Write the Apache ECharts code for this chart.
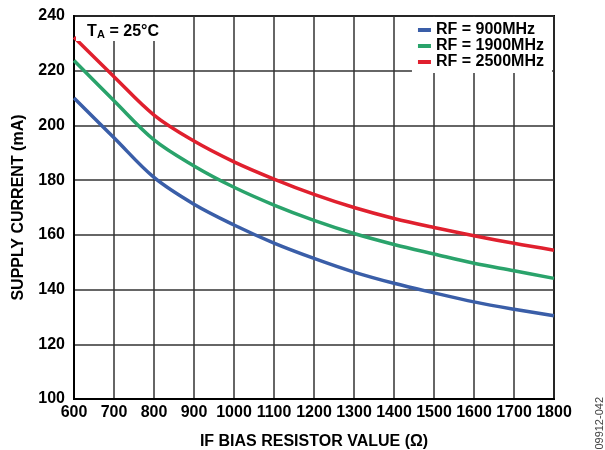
<!DOCTYPE html>
<html><head><meta charset="utf-8">
<script src="https://cdn.jsdelivr.net/npm/echarts@6/dist/echarts.min.js"></script>
<style>html,body{margin:0;padding:0;background:#fff}#c{width:605px;height:450px}</style>
</head><body><div id="c"></div>
<script>
const resistor = [600,700,800,900,1000,1100,1200,1300,1400,1500,1600,1700,1800];
const rf900  = [210.0,195.5,181.0,171.2,163.6,157.0,151.4,146.4,142.3,138.8,135.5,132.8,130.4];
const rf1900 = [223.7,209.0,194.7,185.2,177.4,170.9,165.3,160.5,156.5,153.0,149.6,146.9,144.1];
const rf2500 = [232.2,217.8,203.8,194.3,186.7,180.4,174.8,170.0,166.0,162.7,159.7,156.9,154.4];
const seriesNames = ['RF = 900MHz','RF = 1900MHz','RF = 2500MHz'];
const colors = ['#3a5ea8','#2aa36b','#e0202e'];
const font = 'Liberation Sans, Arial, sans-serif';
const pair = arr => resistor.map((x,i)=>[x,arr[i]]);
const chart = echarts.init(document.getElementById('c'));
chart.setOption({
  animation:false,
  grid:{left:74,right:51,top:16,bottom:51,outerBoundsMode:'none',containLabel:false,show:true,borderColor:'#000',borderWidth:2,backgroundColor:'#fff'},
  xAxis:{type:'value',min:600,max:1800,interval:100,
    name:'IF BIAS RESISTOR VALUE (Ω)',nameLocation:'middle',nameGap:35,
    nameTextStyle:{fontFamily:font,fontWeight:'bold',fontSize:16,color:'#000'},
    axisLine:{show:true,onZero:false,lineStyle:{color:'#000',width:2}},
    axisTick:{show:false},
    axisLabel:{margin:6,fontFamily:font,fontWeight:'bold',fontSize:16,color:'#000',formatter:v=>String(v)},
    splitLine:{show:true,lineStyle:{color:'#333',width:1.5}}},
  yAxis:{type:'value',min:100,max:240,interval:20,
    name:'SUPPLY CURRENT (mA)',nameLocation:'middle',nameGap:47,
    nameTextStyle:{fontFamily:font,fontWeight:'bold',fontSize:16,color:'#000'},
    axisLine:{show:true,onZero:false,lineStyle:{color:'#000',width:2}},
    axisTick:{show:false},
    axisLabel:{margin:9,fontFamily:font,fontWeight:'bold',fontSize:16,color:'#000'},
    splitLine:{show:true,lineStyle:{color:'#333',width:1.5}}},
  legend:{orient:'vertical',right:53,top:17,itemGap:0,itemWidth:13,itemHeight:4,
    backgroundColor:'#fff',padding:[5,8,3,6],
    icon:'rect',
    textStyle:{fontFamily:font,fontWeight:'bold',fontSize:16,lineHeight:15.5,color:'#000'},
    data:seriesNames},
  series:[rf900,rf1900,rf2500].map((d,i)=>({
    name:seriesNames[i],type:'line',data:pair(d),smooth:0.35,showSymbol:false,
    color:colors[i],lineStyle:{width:3.5,color:colors[i]},z:3
  })),
  graphic:[
    {type:'rect',left:76,top:17,shape:{width:86,height:24},style:{fill:'#fff'},z:10},
    {type:'text',left:87,top:24,z:11,style:{text:'T',fontFamily:font,fontWeight:'bold',fontSize:16,fill:'#000'}},
    {type:'text',left:97,top:29,z:11,style:{text:'A',fontFamily:font,fontWeight:'bold',fontSize:11,fill:'#000'}},
    {type:'text',left:105,top:24,z:11,style:{text:' = 25°C',fontFamily:font,fontWeight:'bold',fontSize:16,fill:'#000'}},
    {type:'text',left:594,top:397,rotation:Math.PI/2,z:11,style:{
      text:'09912-042',fontFamily:font,fontSize:11,fill:'#444'}}
  ]
});
</script></body></html>
